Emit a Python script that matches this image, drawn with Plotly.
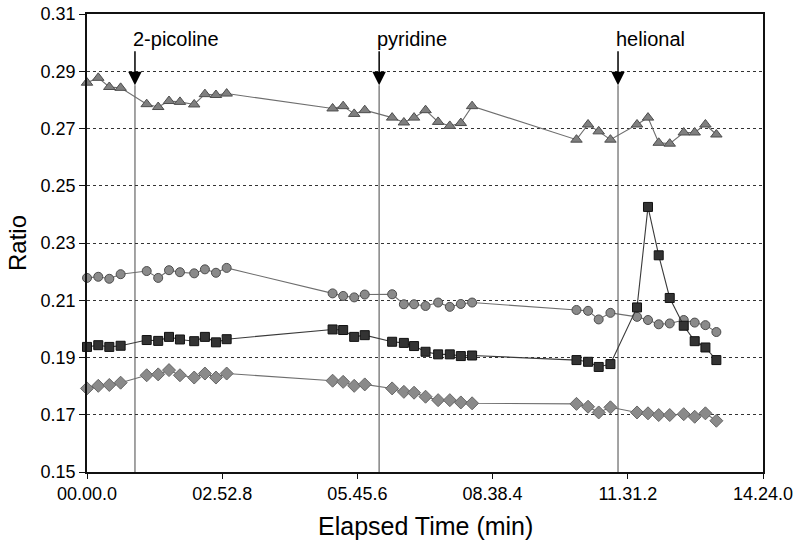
import plotly.graph_objects as go

# ---------------- data ----------------
elapsed_s = [0, 14.4, 28.5, 43, 76.3, 91, 104.8, 118.8, 137, 150.7, 164.8, 178.5,
             313.9, 327.4, 341.5, 355, 390, 405, 418, 432.7, 448.8, 463.7, 477.8, 492.2,
             625.6, 640.4, 654, 669, 703, 717, 730.7, 744.8, 762.7, 776.7, 790.4, 804.4]

triangles = [0.2860, 0.2877, 0.2845, 0.2842, 0.2785, 0.2775, 0.2796, 0.2793, 0.2784, 0.2820, 0.2817, 0.2822,
             0.2770, 0.2778, 0.2751, 0.2764, 0.2738, 0.2721, 0.2738, 0.2764, 0.2723, 0.2709, 0.2719, 0.2778,
             0.2661, 0.2714, 0.2690, 0.2661, 0.2714, 0.2738, 0.2650, 0.2647, 0.2686, 0.2686, 0.2714, 0.2679]

circles = [0.2178, 0.2182, 0.2175, 0.2191, 0.2202, 0.2178, 0.2205, 0.2198, 0.2194, 0.2208, 0.2196, 0.2213,
           0.2124, 0.2115, 0.2110, 0.2120, 0.2121, 0.2086, 0.2086, 0.2080, 0.2092, 0.2077, 0.2087, 0.2092,
           0.2066, 0.2063, 0.2033, 0.2056, 0.2042, 0.2031, 0.2016, 0.2019, 0.2031, 0.2022, 0.2013, 0.1989]

squares = [0.1937, 0.1943, 0.1937, 0.1941, 0.1961, 0.1958, 0.1972, 0.1963, 0.1957, 0.1972, 0.1953, 0.1964,
           0.1998, 0.1996, 0.1972, 0.1978, 0.1955, 0.1951, 0.1940, 0.1920, 0.1911, 0.1911, 0.1905, 0.1907,
           0.1891, 0.1885, 0.1867, 0.1877, 0.2075, 0.2426, 0.2257, 0.2108, 0.2011, 0.1957, 0.1935, 0.1891]

diamonds = [0.1792, 0.1801, 0.1804, 0.1812, 0.1838, 0.1841, 0.1856, 0.1838, 0.1830, 0.1844, 0.1830, 0.1844,
            0.1819, 0.1815, 0.1801, 0.1806, 0.1792, 0.1780, 0.1777, 0.1763, 0.1751, 0.1751, 0.1743, 0.1740,
            0.1738, 0.1728, 0.1708, 0.1726, 0.1708, 0.1705, 0.1699, 0.1699, 0.1702, 0.1693, 0.1705, 0.1679]

event_labels = ["2-picoline", "pyridine", "helional"]
event_times = [61.3, 373.4, 678.7]

x_tick_seconds = [0, 172.8, 345.6, 518.4, 691.2, 864.0]
x_tick_labels = ["00.00.0", "02.52.8", "05.45.6", "08.38.4", "11.31.2", "14.24.0"]
y_ticks = [0.15, 0.17, 0.19, 0.21, 0.23, 0.25, 0.27, 0.29, 0.31]

# ---------------- figure ----------------
FONT = "Arial, Liberation Sans, sans-serif"
fig = go.Figure()

# event vertical lines
arrow_tip = 0.2851
arrow_tail = 0.2975
for t in event_times:
    fig.add_shape(type="line", x0=t, x1=t, y0=0.15, y1=arrow_tip, xref="x", yref="y",
                  line=dict(color="#8c8c8c", width=1.6), layer="below")

series = [
    (triangles, "triangle-up", "#7f7f7f", "#4d4d4d", 10, "#6e6e6e"),
    (circles, "circle", "#8a8a8a", "#4d4d4d", 9, "#6e6e6e"),
    (squares, "square", "#333333", "#111111", 9, "#3a3a3a"),
    (diamonds, "diamond", "#8a8a8a", "#666666", 10, "#6e6e6e"),
]
for vals, sym, fill, edge, size, lc in series:
    fig.add_trace(go.Scatter(
        x=elapsed_s, y=vals, mode="lines+markers",
        line=dict(color=lc, width=1.1),
        marker=dict(symbol=sym, size=size, color=fill, line=dict(color=edge, width=1)),
        cliponaxis=False, showlegend=False,
    ))

# arrows + labels
for lab, t in zip(event_labels, event_times):
    fig.add_annotation(x=t, y=arrow_tip, ax=t, ay=arrow_tail, xref="x", yref="y",
                       axref="x", ayref="y", text="", showarrow=True,
                       arrowhead=2, arrowsize=1.8, arrowwidth=1.5, arrowcolor="black",
                       standoff=0)
    fig.add_annotation(x=t, y=0.3013, xref="x", yref="y", text=lab, showarrow=False,
                       xanchor="left", yanchor="middle", xshift=-4,
                       font=dict(family=FONT, size=20, color="black"))

# axis titles
fig.add_annotation(x=-70 / 676, y=0.5, xref="paper", yref="paper", text="Ratio",
                   textangle=-90, showarrow=False, xanchor="center", yanchor="middle",
                   font=dict(family=FONT, size=24, color="black"))
fig.add_annotation(x=0.5, y=-54 / 458, xref="paper", yref="paper", text="Elapsed Time (min)",
                   showarrow=False, xanchor="center", yanchor="middle",
                   font=dict(family=FONT, size=25, color="black"))

fig.update_xaxes(range=[0, 864], tickvals=x_tick_seconds, ticktext=x_tick_labels,
                 automargin=False,
                 showgrid=False, zeroline=False, showline=True, linecolor="#111111",
                 linewidth=1.6, mirror=True, ticks="outside", ticklen=5, tickwidth=1.4,
                 tickcolor="#111111", tickfont=dict(family=FONT, size=18, color="black"))
fig.update_yaxes(range=[0.15, 0.31], tickvals=y_ticks, ticktext=[f"{v:.2f}" for v in y_ticks],
                 automargin=False,
                 showgrid=True, gridcolor="#333333", gridwidth=1.2, griddash="dot",
                 zeroline=False, showline=True, linecolor="#111111", linewidth=1.6,
                 mirror=True, ticks="outside", ticklen=6, tickwidth=1.4, tickcolor="#111111",
                 tickfont=dict(family=FONT, size=18, color="black"))

fig.update_layout(width=800, height=546, margin=dict(l=87, r=37, t=14, b=74, autoexpand=False),
                  paper_bgcolor="white", plot_bgcolor="white",
                  font=dict(family=FONT, color="black"))

fig.write_html("out.html", config={"displayModeBar": False},
               post_script="document.body.style.margin='0';document.body.style.padding='0';"
                           "document.body.style.overflow='hidden';")
